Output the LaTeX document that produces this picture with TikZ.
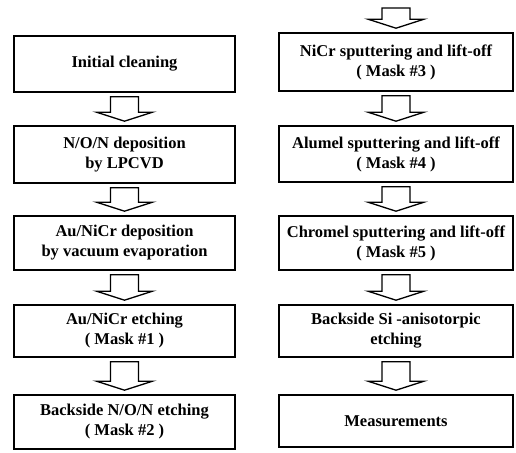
\documentclass[tikz,border=0pt]{standalone}
\usepackage{fontspec}
\setmainfont{Liberation Serif}
\usetikzlibrary{calc}
\newcommand\blockarrow[2]{%
  \draw[arr] ($(#1)+(-14,-4)$) -- ($(#2.north)+(-14,13)$) -- ($(#2.north)+(-28,13)$)
    -- ($(#2.north)+(0,4)$) -- ($(#2.north)+(28,13)$) -- ($(#2.north)+(14,13)$)
    -- ($(#1)+(14,-4)$) -- cycle;}
\begin{document}
\begin{tikzpicture}[x=1pt,y=1pt,
  stepbox/.style={draw, line width=1.6pt, inner sep=0pt, align=center,
    font=\fontsize{16.5}{20}\selectfont\bfseries},
  lbox/.style={stepbox, minimum width=221pt},
  rbox/.style={stepbox, minimum width=234pt},
  arr/.style={draw, line width=1.3pt, fill=white, line join=miter}]
\useasboundingbox (0,0) rectangle (516,452);
\node[lbox, minimum height=56pt] (L1) at (124.5,388) {Initial cleaning};
\node[lbox, minimum height=57pt] (L2) at (124.5,297.5) {N/O/N deposition\\by LPCVD};
\node[lbox, minimum height=54pt] (L3) at (124.5,209) {Au/NiCr deposition\\by vacuum evaporation};
\node[lbox, minimum height=52pt] (L4) at (124.5,121) {Au/NiCr etching\\( Mask \#1 )};
\node[lbox, minimum height=54pt] (L5) at (124.5,30) {Backside N/O/N etching\\( Mask \#2 )};
\node[rbox, minimum height=58pt] (R1) at (396,390) {NiCr sputtering and lift-off\\( Mask \#3 )};
\node[rbox, minimum height=56pt] (R2) at (396,298) {Alumel sputtering and lift-off\\( Mask \#4 )};
\node[rbox, minimum height=54pt] (R3) at (396,209) {Chromel sputtering and lift-off\\( Mask \#5 )};
\node[rbox, minimum height=52pt] (R4) at (396,121) {Backside Si -anisotorpic\\etching};
\node[rbox, minimum height=52pt] (R5) at (396,31) {Measurements};
\coordinate (rtop) at (396,448);
\blockarrow{L1.south}{L2}
\blockarrow{L2.south}{L3}
\blockarrow{L3.south}{L4}
\blockarrow{L4.south}{L5}
\blockarrow{rtop}{R1}
\blockarrow{R1.south}{R2}
\blockarrow{R2.south}{R3}
\blockarrow{R3.south}{R4}
\blockarrow{R4.south}{R5}
\end{tikzpicture}
\end{document}
